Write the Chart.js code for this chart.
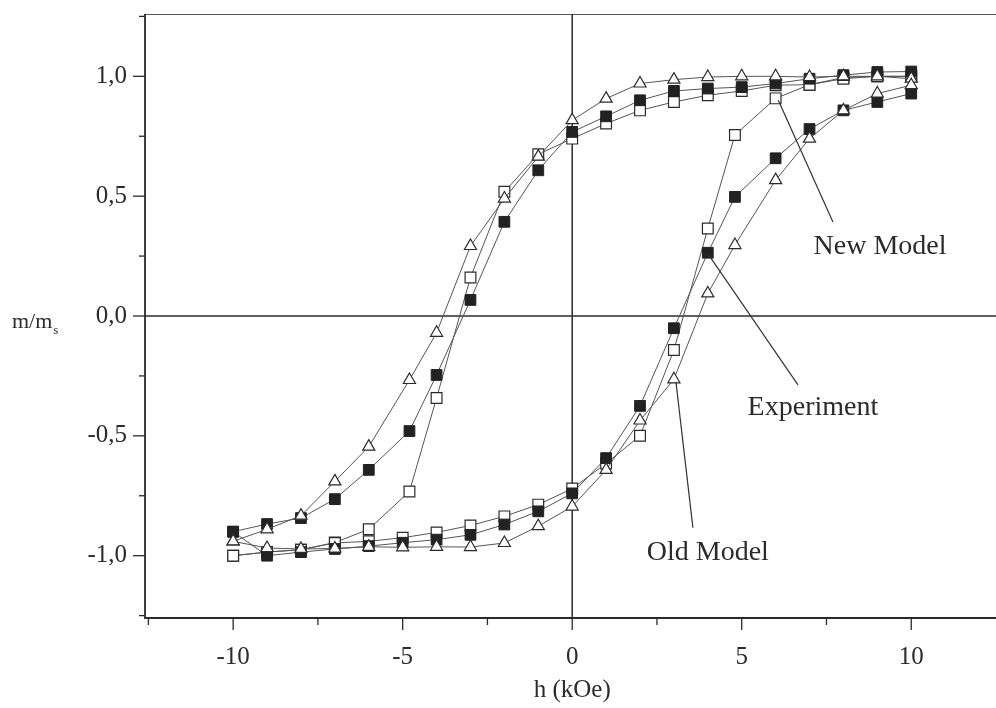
<!DOCTYPE html>
<html lang="en">
<head>
<meta charset="UTF-8">
<title>m/ms vs h</title>
<script src="https://cdn.jsdelivr.net/npm/chart.js"></script>
<style>
  body { margin: 0; background: #fff; }
  canvas { display: block; }
</style>
</head>
<body>
<canvas id="loop" width="996" height="708"></canvas>
<script>
// field values (kOe): descending branch, then ascending branch
const hUp   = [10, 9, 8, 7, 6, 5, 4, 3, 2, 1, 0, -1, -2, -3, -4, -4.8, -6, -7, -8, -9, -10];
const hDown = [-10, -9, -8, -7, -6, -5, -4, -3, -2, -1, 0, 1, 2, 3, 4, 4.8, 6, 7, 8, 9, 10];

const newUp   = [1.0, 1.0, 0.995, 0.965, 0.963, 0.939, 0.921, 0.893, 0.858, 0.803, 0.74, 0.675, 0.518, 0.161, -0.342, -0.732, -0.89, -0.945, -0.975, -0.985, -1.0];
const newDown = [-1.0, -0.985, -0.975, -0.947, -0.94, -0.925, -0.903, -0.874, -0.836, -0.787, -0.72, -0.615, -0.50, -0.142, 0.365, 0.755, 0.908, 0.965, 0.99, 1.0, 1.0];

const expUp   = [1.02, 1.018, 1.005, 0.99, 0.97, 0.955, 0.949, 0.939, 0.90, 0.833, 0.768, 0.608, 0.393, 0.067, -0.246, -0.48, -0.642, -0.764, -0.843, -0.868, -0.90];
const expDown = [-0.90, -1.0, -0.985, -0.972, -0.96, -0.946, -0.933, -0.913, -0.87, -0.815, -0.74, -0.593, -0.375, -0.051, 0.264, 0.497, 0.658, 0.78, 0.858, 0.893, 0.928];

const oldUp   = [0.99, 1.0, 1.0, 0.997, 1.0, 1.0, 0.997, 0.986, 0.97, 0.907, 0.817, 0.665, 0.49, 0.292, -0.07, -0.267, -0.545, -0.69, -0.833, -0.89, -0.94];
const oldDown = [-0.94, -0.968, -0.972, -0.97, -0.963, -0.965, -0.963, -0.964, -0.947, -0.877, -0.795, -0.642, -0.436, -0.264, 0.094, 0.296, 0.567, 0.74, 0.858, 0.928, 0.963];

const xTicks = [-10, -5, 0, 5, 10];
const xMinor = [-12.5, -7.5, -2.5, 2.5, 7.5];
const yTicks = [-1, -0.5, 0, 0.5, 1];
const yMinor = [-1.25, -0.75, -0.25, 0.25, 0.75, 1.25];

// labels with leader lines, in data units: [text, fromX, fromY, toX, toY, textX, textY]
const notes = [
  ['New Model', 6.08, 0.90, 7.69, 0.392, 9.08, 0.29],
  ['Experiment', 4.03, 0.254, 6.66, -0.2875, 7.1, -0.383],
  ['Old Model', 3.06, -0.275, 3.56, -0.883, 4.0, -0.9875]
];

const serif = "'Liberation Serif', 'DejaVu Serif', serif";
const ink = '#2b2b2b';

function loop(hA, mA, hB, mB) {
  return hA.map((h, i) => ({ x: h, y: mA[i] }))
    .concat(hB.map((h, i) => ({ x: h, y: mB[i] })));
}

function noPad(s) {
  s.paddingTop = 0; s.paddingBottom = 0; s.paddingLeft = 0; s.paddingRight = 0;
}

const framePlugin = {
  id: 'frame',
  beforeDatasetsDraw(chart) {
    const { ctx, chartArea: a, scales: { x, y } } = chart;
    ctx.save();
    // top edge
    ctx.lineWidth = 1.2;
    ctx.strokeStyle = '#555';
    ctx.beginPath(); ctx.moveTo(a.left, a.top + 0.5); ctx.lineTo(a.right, a.top + 0.5); ctx.stroke();
    ctx.strokeStyle = ink;
    // zero lines
    ctx.lineWidth = 1.5;
    const x0 = x.getPixelForValue(0), y0 = y.getPixelForValue(0);
    ctx.beginPath(); ctx.moveTo(x0, a.top); ctx.lineTo(x0, a.bottom); ctx.stroke();
    ctx.beginPath(); ctx.moveTo(a.left, y0); ctx.lineTo(a.right, y0); ctx.stroke();
    // axes
    ctx.lineWidth = 1.8;
    ctx.beginPath(); ctx.moveTo(a.left, a.top); ctx.lineTo(a.left, a.bottom); ctx.lineTo(a.right, a.bottom); ctx.stroke();
    // ticks
    ctx.lineWidth = 1.3;
    xTicks.forEach(v => { const p = x.getPixelForValue(v); ctx.beginPath(); ctx.moveTo(p, a.bottom); ctx.lineTo(p, a.bottom + 12); ctx.stroke(); });
    xMinor.forEach(v => { const p = x.getPixelForValue(v); ctx.beginPath(); ctx.moveTo(p, a.bottom); ctx.lineTo(p, a.bottom + 7); ctx.stroke(); });
    yTicks.forEach(v => { const p = y.getPixelForValue(v); ctx.beginPath(); ctx.moveTo(a.left, p); ctx.lineTo(a.left - 12, p); ctx.stroke(); });
    yMinor.forEach(v => { const p = y.getPixelForValue(v); ctx.beginPath(); ctx.moveTo(a.left, p); ctx.lineTo(a.left - 6, p); ctx.stroke(); });
    ctx.restore();
  },
  afterDraw(chart) {
    const { ctx, scales: { x, y } } = chart;
    ctx.save();
    ctx.fillStyle = ink;
    ctx.strokeStyle = '#333';
    ctx.lineWidth = 1.2;
    // axis titles
    ctx.font = '25px ' + serif;
    ctx.textAlign = 'center';
    ctx.textBaseline = 'middle';
    ctx.fillText('h (kOe)', x.getPixelForValue(0), 690);
    ctx.textAlign = 'left';
    ctx.font = '22px ' + serif;
    const yt = y.getPixelForValue(0) + 6;
    ctx.fillText('m/m', 12, yt);
    const w = ctx.measureText('m/m').width;
    ctx.font = '13px ' + serif;
    ctx.fillText('s', 12 + w + 1, yt + 9);
    // annotations
    ctx.font = '28px ' + serif;
    ctx.textAlign = 'center';
    notes.forEach(([t, fx, fy, tx, ty, lx, ly]) => {
      ctx.beginPath();
      ctx.moveTo(x.getPixelForValue(fx), y.getPixelForValue(fy));
      ctx.lineTo(x.getPixelForValue(tx), y.getPixelForValue(ty));
      ctx.stroke();
      ctx.fillText(t, x.getPixelForValue(lx), y.getPixelForValue(ly));
    });
    ctx.restore();
  }
};

new Chart(document.getElementById('loop'), {
  type: 'scatter',
  data: {
    datasets: [
      {
        label: 'Old Model',
        data: loop(hUp, oldUp, hDown, oldDown),
        showLine: true,
        borderColor: '#555',
        borderWidth: 1,
        pointStyle: 'triangle',
        pointRadius: 7,
        pointBackgroundColor: '#fff',
        pointBorderColor: ink,
        pointBorderWidth: 1.2
      },
      {
        label: 'Experiment',
        data: loop(hUp, expUp, hDown, expDown),
        showLine: true,
        borderColor: '#555',
        borderWidth: 1,
        pointStyle: 'rect',
        pointRadius: 7.6,
        pointBackgroundColor: '#222',
        pointBorderColor: '#222',
        pointBorderWidth: 1
      },
      {
        label: 'New Model',
        data: loop(hUp, newUp, hDown, newDown),
        showLine: true,
        borderColor: '#555',
        borderWidth: 1,
        pointStyle: 'rect',
        pointRadius: 7.6,
        pointBackgroundColor: '#fff',
        pointBorderColor: ink,
        pointBorderWidth: 1.2
      }
    ]
  },
  options: {
    responsive: false,
    animation: false,
    layout: { autoPadding: false, padding: { top: 14, right: 0, left: 0, bottom: 0 } },
    plugins: { legend: { display: false }, tooltip: { enabled: false } },
    scales: {
      x: {
        type: 'linear',
        min: -12.6,
        max: 12.5,
        grid: { display: false, drawTicks: false },
        border: { display: false },
        afterBuildTicks: s => { s.ticks = xTicks.map(v => ({ value: v })); },
        afterFit: s => { s.height = 90; noPad(s); },
        ticks: { color: ink, font: { family: serif, size: 25 }, padding: 24, maxRotation: 0, autoSkip: false }
      },
      y: {
        type: 'linear',
        min: -1.26,
        max: 1.26,
        grid: { display: false, drawTicks: false },
        border: { display: false },
        afterBuildTicks: s => { s.ticks = yTicks.map(v => ({ value: v })); },
        afterFit: s => { s.width = 145; noPad(s); },
        ticks: {
          color: ink,
          font: { family: serif, size: 25 },
          padding: 18,
          callback: v => v.toFixed(1).replace('.', ',')
        }
      }
    }
  },
  plugins: [framePlugin]
});
</script>
</body>
</html>
